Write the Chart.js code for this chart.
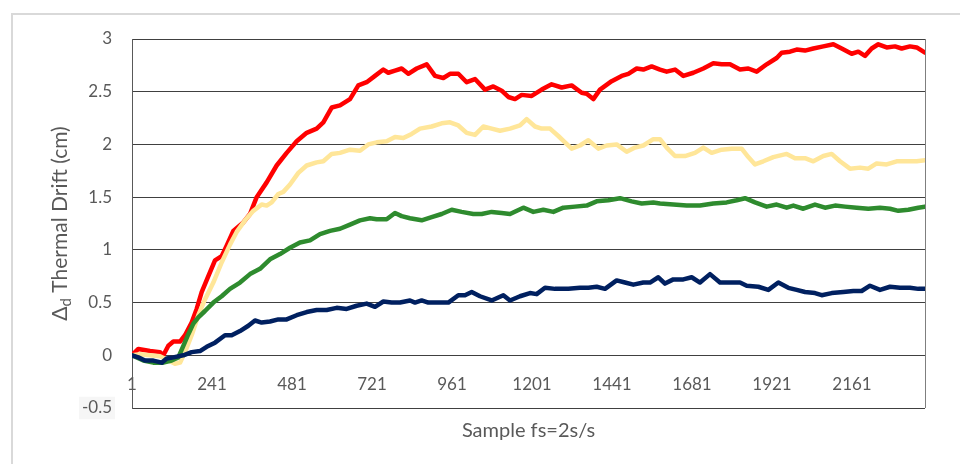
<!DOCTYPE html>
<html>
<head>
<meta charset="utf-8">
<script src="https://cdn.jsdelivr.net/npm/chart.js@4.4.1/dist/chart.umd.min.js"></script>
<style>
  html, body { margin: 0; padding: 0; background: #fff; }
  #wrap { width: 960px; height: 464px; position: relative; }
</style>
</head>
<body>
<div id="wrap"><canvas id="c"></canvas></div>
<script>
// Sample positions on the horizontal axis and the tick labels shown there
const xTickValues = [1, 241, 481, 721, 961, 1201, 1441, 1681, 1921, 2161];
const xTickLabels = ['1', '241', '481', '721', '961', '1201', '1441', '1681', '1921', '2161'];
const yTickValues = [-0.5, 0, 0.5, 1, 1.5, 2, 2.5, 3];
const yTickLabels = ['-0.5', '0', '0.5', '1', '1.5', '2', '2.5', '3'];
const xTitle = 'Sample fs=2s/s';
const yTitleParts = ['\u0394', 'd', ' Thermal Drift (cm)'];

// Red trace
const redSample = [1,20,55,85,95,110,125,145,160,180,195,210,230,250,270,285,305,335,355,375,405,435,465,495,525,555,575,600,625,655,680,705,730,755,770,790,810,830,855,885,910,935,955,980,1005,1030,1060,1085,1110,1130,1150,1170,1200,1230,1260,1290,1320,1350,1365,1385,1405,1440,1470,1490,1515,1535,1560,1585,1605,1630,1655,1685,1715,1745,1770,1795,1825,1850,1875,1905,1935,1950,1975,1995,2020,2045,2075,2105,2130,2160,2180,2200,2220,2240,2265,2290,2310,2335,2355,2380];
const redDrift = [0,0.06,0.04,0.03,0.0,0.09,0.13,0.13,0.19,0.31,0.44,0.60,0.75,0.90,0.94,1.04,1.18,1.26,1.34,1.50,1.64,1.80,1.92,2.03,2.11,2.15,2.21,2.35,2.37,2.43,2.56,2.59,2.65,2.71,2.68,2.70,2.72,2.67,2.72,2.76,2.65,2.63,2.67,2.67,2.59,2.62,2.52,2.55,2.51,2.45,2.43,2.47,2.46,2.52,2.57,2.54,2.56,2.49,2.48,2.43,2.52,2.60,2.65,2.67,2.72,2.71,2.74,2.71,2.69,2.71,2.65,2.68,2.72,2.77,2.76,2.76,2.71,2.72,2.69,2.76,2.82,2.87,2.88,2.90,2.89,2.91,2.93,2.95,2.91,2.86,2.88,2.84,2.91,2.95,2.92,2.93,2.91,2.93,2.92,2.87];

// Light yellow trace
const yellowSample = [1,25,85,105,130,145,160,180,200,220,245,270,295,315,340,365,390,405,420,440,455,475,500,525,555,575,600,625,655,685,710,735,765,790,815,840,865,900,930,955,980,1005,1030,1055,1080,1105,1135,1165,1185,1210,1230,1255,1280,1300,1320,1345,1370,1400,1425,1455,1485,1510,1535,1565,1585,1605,1630,1660,1690,1715,1740,1770,1800,1830,1850,1870,1895,1925,1965,1990,2020,2045,2075,2100,2125,2155,2185,2210,2235,2265,2295,2330,2355,2380];
const yellowDrift = [0,0.01,-0.01,-0.04,-0.08,-0.07,0.03,0.19,0.38,0.53,0.69,0.88,1.05,1.17,1.28,1.37,1.43,1.42,1.45,1.53,1.55,1.62,1.73,1.80,1.83,1.84,1.91,1.92,1.95,1.94,2.00,2.02,2.03,2.07,2.06,2.10,2.15,2.17,2.20,2.21,2.18,2.11,2.09,2.17,2.15,2.13,2.15,2.18,2.24,2.17,2.15,2.15,2.08,2.02,1.96,1.99,2.04,1.96,1.99,2.00,1.93,1.97,1.99,2.05,2.05,1.97,1.89,1.89,1.92,1.97,1.92,1.95,1.96,1.96,1.88,1.81,1.84,1.88,1.91,1.87,1.87,1.84,1.89,1.91,1.84,1.77,1.78,1.77,1.82,1.81,1.84,1.84,1.84,1.85];

// Green trace
const greenSample = [1,35,65,95,120,140,155,170,185,200,220,245,270,295,325,355,385,415,445,475,505,535,565,595,625,655,685,715,735,765,790,810,835,870,900,930,960,990,1025,1050,1080,1110,1135,1175,1205,1235,1265,1295,1330,1365,1395,1430,1465,1500,1530,1565,1585,1625,1665,1705,1745,1785,1815,1840,1870,1905,1935,1965,1985,2015,2050,2080,2110,2140,2175,2210,2245,2275,2300,2330,2360,2380];
const greenDrift = [0,-0.05,-0.07,-0.07,-0.05,-0.02,0.09,0.20,0.30,0.36,0.42,0.50,0.56,0.63,0.69,0.77,0.82,0.91,0.96,1.02,1.07,1.09,1.15,1.18,1.20,1.24,1.28,1.30,1.29,1.29,1.35,1.32,1.30,1.28,1.31,1.34,1.38,1.36,1.34,1.34,1.36,1.35,1.34,1.40,1.36,1.38,1.36,1.40,1.41,1.42,1.46,1.47,1.49,1.46,1.44,1.45,1.44,1.43,1.42,1.42,1.44,1.45,1.47,1.49,1.45,1.41,1.43,1.40,1.42,1.39,1.43,1.40,1.42,1.41,1.40,1.39,1.40,1.39,1.37,1.38,1.40,1.41];

// Navy trace
const navySample = [1,20,40,65,90,105,125,155,180,205,225,250,280,300,325,350,370,390,415,440,465,495,525,555,585,615,645,675,705,730,755,780,805,835,850,870,890,920,950,980,1000,1020,1045,1080,1115,1135,1165,1195,1215,1240,1270,1310,1345,1370,1395,1420,1455,1480,1505,1535,1555,1580,1600,1625,1655,1680,1705,1735,1765,1790,1825,1845,1880,1910,1940,1970,1995,2020,2050,2070,2100,2135,2165,2190,2215,2245,2275,2305,2335,2360,2380];
const navyDrift = [0,-0.02,-0.05,-0.05,-0.07,-0.03,-0.02,0.0,0.03,0.04,0.08,0.12,0.19,0.19,0.23,0.28,0.33,0.31,0.32,0.34,0.34,0.38,0.41,0.43,0.43,0.45,0.44,0.47,0.49,0.46,0.51,0.50,0.50,0.52,0.50,0.52,0.50,0.50,0.50,0.57,0.57,0.60,0.56,0.52,0.57,0.52,0.56,0.59,0.58,0.64,0.63,0.63,0.64,0.64,0.65,0.63,0.71,0.69,0.67,0.69,0.69,0.74,0.68,0.72,0.72,0.74,0.69,0.77,0.69,0.69,0.69,0.66,0.65,0.62,0.69,0.64,0.62,0.60,0.59,0.57,0.59,0.60,0.61,0.61,0.66,0.62,0.65,0.64,0.64,0.63,0.63];

const FONT = 'Lato, "Liberation Sans", sans-serif';
const TEXT = '#595959';

function points(xs, ys) {
  return xs.map((x, i) => ({ x: x, y: ys[i] }));
}

function trace(color, xs, ys) {
  return {
    data: points(xs, ys),
    borderColor: color,
    borderWidth: 4.5,
    pointRadius: 0,
    tension: 0,
    fill: false,
    borderJoinStyle: 'round',
    borderCapStyle: 'round'
  };
}

// Outer frame, right edge of the plot box and the axis titles
const decorations = {
  id: 'decorations',
  beforeDraw(chart) {
    const ctx = chart.ctx;
    ctx.save();
    ctx.fillStyle = '#ffffff';
    ctx.fillRect(0, 0, chart.width, chart.height);
    ctx.strokeStyle = '#d9d9d9';
    ctx.lineWidth = 2;
    ctx.strokeRect(12, 14, chart.width + 20, chart.height + 20);
    ctx.restore();
  },
  afterDraw(chart) {
    const ctx = chart.ctx;
    const a = chart.chartArea;
    ctx.save();
    ctx.strokeStyle = '#7f7f7f';
    ctx.lineWidth = 1;
    const rx = Math.round(a.right) + 0.5;
    ctx.beginPath();
    ctx.moveTo(rx, a.top);
    ctx.lineTo(rx, a.bottom);
    ctx.stroke();

    ctx.fillStyle = TEXT;
    ctx.font = '20px ' + FONT;
    ctx.textAlign = 'center';
    ctx.textBaseline = 'middle';
    ctx.fillText(xTitle, (a.left + a.right) / 2, 431);

    // vertical title with a subscript "d"
    const big = '21px ' + FONT;
    const small = '15px ' + FONT;
    ctx.font = big;
    const w0 = ctx.measureText(yTitleParts[0]).width;
    const w2 = ctx.measureText(yTitleParts[2]).width;
    ctx.font = small;
    const w1 = ctx.measureText(yTitleParts[1]).width;
    const total = w0 + w1 + w2;
    ctx.translate(67, (a.top + a.bottom) / 2);
    ctx.rotate(-Math.PI / 2);
    ctx.textAlign = 'left';
    ctx.textBaseline = 'alphabetic';
    let x = -total / 2;
    ctx.font = big;
    ctx.fillText(yTitleParts[0], x, 0);
    x += w0;
    ctx.font = small;
    ctx.fillText(yTitleParts[1], x, 4);
    x += w1;
    ctx.font = big;
    ctx.fillText(yTitleParts[2], x, 0);
    ctx.restore();
  }
};

new Chart(document.getElementById('c'), {
  type: 'line',
  data: {
    datasets: [
      trace('#002060', navySample, navyDrift),
      trace('#2e8b2e', greenSample, greenDrift),
      trace('#ffe699', yellowSample, yellowDrift),
      trace('#ff0000', redSample, redDrift)
    ]
  },
  options: {
    responsive: true,
    maintainAspectRatio: false,
    animation: false,
    layout: { padding: { left: 0, right: 35, top: 39, bottom: 56 } },
    plugins: {
      legend: { display: false },
      tooltip: { enabled: false },
      title: { display: false }
    },
    scales: {
      x: {
        type: 'linear',
        position: { y: 0 },
        min: 1,
        max: 2380,
        afterBuildTicks(scale) {
          scale.ticks = xTickValues.map(v => ({ value: v }));
        },
        grid: { display: false, drawTicks: false },
        border: { display: false },
        ticks: {
          autoSkip: false,
          maxRotation: 0,
          padding: 19,
          color: TEXT,
          font: { family: FONT, size: 17 },
          callback: (v, i) => xTickLabels[i]
        }
      },
      y: {
        type: 'linear',
        position: 'left',
        min: -0.5,
        max: 3,
        afterFit(scale) { scale.width = 132; },
        afterBuildTicks(scale) {
          scale.ticks = yTickValues.map(v => ({ value: v }));
        },
        grid: { color: '#404040', lineWidth: 1, drawTicks: false },
        border: { display: true, color: '#595959', width: 1 },
        ticks: {
          padding: 20,
          color: TEXT,
          font: { family: FONT, size: 17 },
          callback: (v, i) => yTickLabels[i],
          showLabelBackdrop: (ctx) => ctx.tick && ctx.tick.value === -0.5,
          backdropColor: '#f6f6f6',
          backdropPadding: { x: 3, y: 1 }
        }
      }
    }
  },
  plugins: [decorations]
});
</script>
</body>
</html>
